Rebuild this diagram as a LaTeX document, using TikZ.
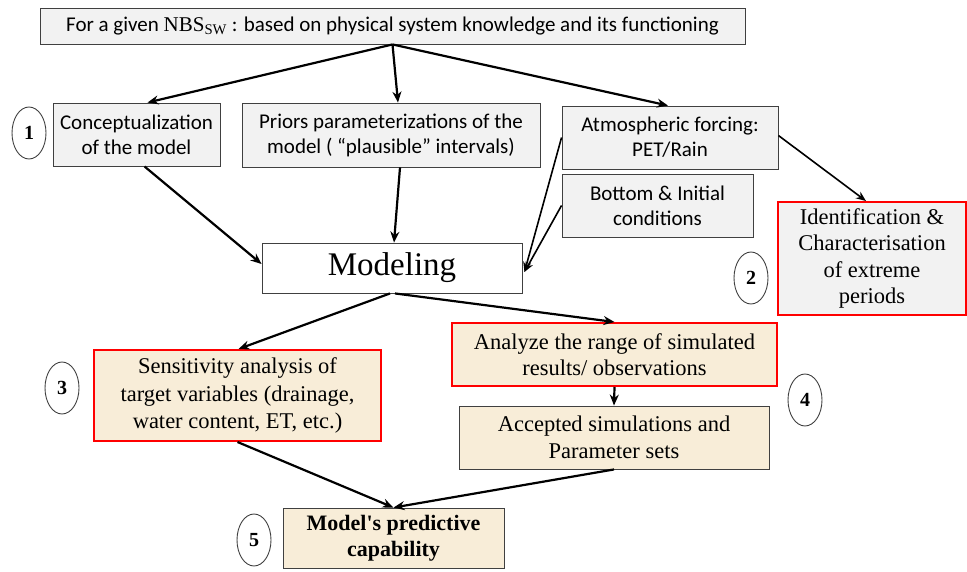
\documentclass[tikz,border=0pt]{standalone}
\usepackage{fontspec}
\setmainfont{Liberation Serif}
\setsansfont{Carlito}
\usetikzlibrary{arrows.meta,shapes.geometric}
\definecolor{boxgray}{HTML}{F2F2F2}
\definecolor{edgegray}{HTML}{404040}
\definecolor{cream}{HTML}{F8EDD8}
\definecolor{redline}{HTML}{FF0000}
\begin{document}
\begin{tikzpicture}[x=1pt,y=-1pt,
  graybox/.style={draw=edgegray, fill=boxgray, line width=0.9pt, inner sep=0pt, align=center,
    font=\sffamily\fontsize{21}{25}\selectfont},
  serifbox/.style={draw=edgegray, fill=cream, line width=0.9pt, inner sep=0pt, align=center,
    font=\rmfamily\fontsize{22.5}{26.5}\selectfont},
  redbox/.style={draw=redline, line width=2pt},
  num/.style={ellipse, draw=edgegray, line width=0.9pt, minimum width=34pt, minimum height=52pt,
    inner sep=0pt, font=\rmfamily\bfseries\fontsize{20}{20}\selectfont},
  arr/.style={-{Stealth[length=11pt,width=9pt]}, line width=2.2pt},
  thinarr/.style={-{Stealth[length=10pt,width=8pt]}, line width=1.6pt}
]
\useasboundingbox (0,0) rectangle (967,572);

\node[graybox, minimum width=705pt, minimum height=36pt] (top) at (392.5,26)
  {For a given {\rmfamily NBS\textsubscript{SW}} : based on physical system knowledge and its functioning};
\node[graybox, minimum width=167pt, minimum height=63pt] (concept) at (136.5,134.5)
  {Conceptualization\\of the model};
\node[graybox, minimum width=298pt, minimum height=64pt] (priors) at (391,135)
  {Priors parameterizations of the\\model ( “plausible” intervals)};
\node[graybox, minimum width=216pt, minimum height=63pt] (atmos) at (670,137.5)
  {Atmospheric forcing:\\PET/Rain};
\node[graybox, minimum width=191pt, minimum height=63pt] (bottom) at (657.5,205.5)
  {Bottom \& Initial\\conditions};
\node[draw=edgegray, fill=white, line width=0.9pt, minimum width=260pt, minimum height=50pt,
  inner sep=0pt, font=\rmfamily\fontsize{33}{33}\selectfont] (modeling) at (392,268) {Modeling};
\node[serifbox, fill=boxgray, redbox, minimum width=188pt, minimum height=113pt] (ident) at (872,258.5)
  {Identification \&\\Characterisation\\of extreme\\periods};
\node[serifbox, redbox, minimum width=325pt, minimum height=63pt] (analyze) at (614.5,354.5)
  {Analyze the range of simulated\\results/ observations};
\node[serifbox, minimum width=310pt, minimum height=63pt] (accepted) at (614,437.5)
  {Accepted simulations and\\Parameter sets};
\node[serifbox, redbox, minimum width=287pt, minimum height=91pt, font=\rmfamily\fontsize{22.5}{27.5}\selectfont] (sens) at (237.5,395.5)
  {Sensitivity analysis of\\target variables (drainage,\\water content, ET, etc.)};
\node[serifbox, minimum width=221pt, minimum height=60pt, font=\rmfamily\bfseries\fontsize{22}{26}\selectfont] (pred) at (393.5,538)
  {Model\textquotesingle s predictive\\capability};

\node[num] (n1) at (29,133) {1};
\node[num] (n2) at (751,278) {2};
\node[num] (n3) at (62,388) {3};
\node[num] (n4) at (805,400) {4};
\node[num] (n5) at (254,540) {5};

\draw[arr] (top.south) -- ([xshift=11pt]concept.north);
\draw[arr] (top.south) -- ([xshift=7pt]priors.north);
\draw[arr] (top.south) -- ([xshift=-2pt]atmos.north);
\draw[arr] ([xshift=8pt]concept.south) -- ([yshift=4pt]modeling.west);
\draw[arr] ([xshift=9pt]priors.south) -- ([xshift=2pt]modeling.north);
\draw[thinarr] (atmos.west) -- ([yshift=-4pt,xshift=2pt]modeling.east);
\draw[thinarr] (bottom.west) -- ([yshift=-4pt,xshift=2pt]modeling.east);
\draw[thinarr] ([yshift=2pt]atmos.east) -- ([xshift=-6pt]ident.north);
\draw[arr] ([xshift=-2pt]modeling.south) -- ([xshift=1pt]sens.north);
\draw[arr] ([xshift=3pt]modeling.south) -- (analyze.north);
\draw[arr] (analyze.south) -- (accepted.north);
\draw[arr] (sens.south) -- (pred.north);
\draw[arr] (accepted.south) -- (pred.north);
\end{tikzpicture}
\end{document}
